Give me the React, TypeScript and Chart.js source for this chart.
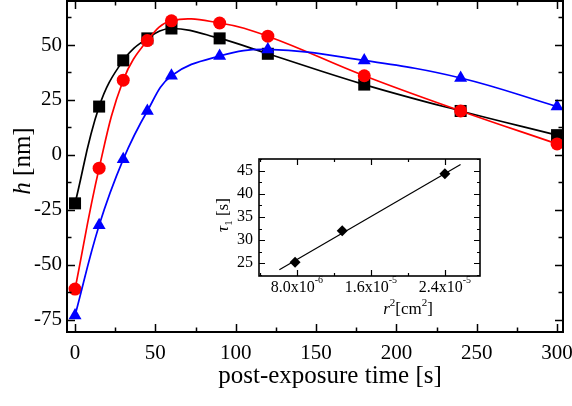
import React, { useEffect, useRef } from "react";
import { Chart, registerables } from "chart.js";
Chart.register(...registerables);

const FONT = "'Liberation Serif', 'Times New Roman', serif";

// ---- main plot data ----
const timeS = [0, 15, 30, 45, 60, 90, 120, 180, 240, 300];
const hSquares = [-22, 22, 43, 53, 57.5, 53, 46, 32, 20, 9];
const hCircles = [-61, -6, 34, 52, 61, 60, 54, 36, 20, 5];
const hTriangles = [-73, -32, -2, 20, 36, 45, 48, 43, 35, 22];
const mainXTicks = [0, 50, 100, 150, 200, 250, 300];
const mainXMinor = [25, 75, 125, 175, 225, 275];
const mainYTicks = [-75, -50, -25, 0, 25, 50];
const mainYMinor = [-62.5, -37.5, -12.5, 12.5, 37.5, 62.5];

// ---- inset data ----
const r2Values = [7.8e-6, 1.29e-5, 2.4e-5];
const tauValues = [25.2, 32.0, 44.3];
const fitR2 = [6.1e-6, 2.57e-5];
const fitTau = [23.6, 46.3];
const insetXTicks = [8e-6, 1.6e-5, 2.4e-5];
const insetXMantissa = ["8.0x10", "1.6x10", "2.4x10"];
const insetXExponent = ["-6", "-5", "-5"];
const insetXMinor = [4e-6, 1.2e-5, 2.0e-5];
const insetYTicks = [25, 30, 35, 40, 45];
const insetYMinor = [22.5, 27.5, 32.5, 37.5, 42.5, 47.5];

type Piece = { t: string; size: number; italic?: boolean; dy?: number };

function drawPieces(ctx: CanvasRenderingContext2D, pieces: Piece[], x: number, y: number, rotate: boolean) {
  ctx.save();
  ctx.translate(x, y);
  if (rotate) ctx.rotate(-Math.PI / 2);
  ctx.textBaseline = "alphabetic";
  ctx.textAlign = "left";
  ctx.fillStyle = "#000";
  const fontOf = (p: Piece) => `${p.italic ? "italic " : ""}${p.size}px ${FONT}`;
  const widths = pieces.map((p) => {
    ctx.font = fontOf(p);
    return ctx.measureText(p.t).width;
  });
  const total = widths.reduce((a, b) => a + b, 0);
  let cx = -total / 2;
  pieces.forEach((p, i) => {
    ctx.font = fontOf(p);
    ctx.fillText(p.t, cx, p.dy || 0);
    cx += widths[i];
  });
  ctx.restore();
}

type FrameCfg = {
  id: string;
  xMajor: number[];
  xMinor: number[];
  yMajor: number[];
  yMinor: number[];
  major: number;
  minor: number;
  frameWidth: number;
  tickWidth: number;
  extra?: (chart: any) => void;
};

function framePlugin(cfg: FrameCfg) {
  return {
    id: "frame" + cfg.id,
    afterDraw(chart: any) {
      const { ctx, chartArea: a, scales } = chart;
      const xs = scales.x;
      const ys = scales.y;
      ctx.save();
      ctx.strokeStyle = "#000";
      ctx.lineWidth = cfg.tickWidth;
      ctx.beginPath();
      const xt = (vals: number[], len: number) => {
        for (const v of vals) {
          const p = Math.round(xs.getPixelForValue(v)) + 0.5;
          ctx.moveTo(p, a.bottom);
          ctx.lineTo(p, a.bottom - len);
          ctx.moveTo(p, a.top);
          ctx.lineTo(p, a.top + len);
        }
      };
      const yt = (vals: number[], len: number) => {
        for (const v of vals) {
          const p = Math.round(ys.getPixelForValue(v)) + 0.5;
          ctx.moveTo(a.left, p);
          ctx.lineTo(a.left + len, p);
          ctx.moveTo(a.right, p);
          ctx.lineTo(a.right - len, p);
        }
      };
      xt(cfg.xMajor, cfg.major);
      xt(cfg.xMinor, cfg.minor);
      yt(cfg.yMajor, cfg.major);
      yt(cfg.yMinor, cfg.minor);
      ctx.stroke();
      ctx.lineWidth = cfg.frameWidth;
      ctx.strokeRect(a.left, a.top, a.right - a.left, a.bottom - a.top);
      ctx.restore();
      if (cfg.extra) cfg.extra(chart);
    },
  };
}

const pts = (xs: number[], ys: number[]) => xs.map((x, i) => ({ x, y: ys[i] }));

export default function App() {
  const mainRef = useRef<HTMLCanvasElement>(null);
  const insetRef = useRef<HTMLCanvasElement>(null);

  useEffect(() => {
    const common = (color: string, style: string, radius: number, data: any) => ({
      data,
      borderColor: color,
      backgroundColor: color,
      pointBackgroundColor: color,
      pointStyle: style,
      pointRadius: radius,
      pointBorderWidth: 0,
      borderWidth: 1.7,
      tension: 0.4,
    });

    const main = new Chart(mainRef.current as HTMLCanvasElement, {
      type: "line",
      data: {
        datasets: [
          common("#0000ff", "triangle", 7.5, pts(timeS, hTriangles)),
          common("#ff0000", "circle", 6.5, pts(timeS, hCircles)),
          common("#000000", "rect", 8.5, pts(timeS, hSquares)),
        ] as any,
      },
      options: {
        responsive: false,
        animation: false,
        layout: { autoPadding: false, padding: { top: 1, right: 9, left: 0, bottom: 0 } },
        plugins: { legend: { display: false }, tooltip: { enabled: false } },
        scales: {
          x: {
            type: "linear",
            min: -5,
            max: 303.7,
            afterBuildTicks: (s: any) => {
              s.ticks = mainXTicks.map((v) => ({ value: v }));
            },
            afterFit: (s: any) => {
              s.height = 74;
              s.paddingLeft = 0;
              s.paddingRight = 0;
            },
            ticks: {
              font: { family: FONT, size: 21 },
              color: "#000",
              padding: 9,
              maxRotation: 0,
              autoSkip: false,
              callback: (v: any) => String(v),
            },
            grid: { display: false, drawTicks: false },
            border: { display: false },
          },
          y: {
            type: "linear",
            min: -80.5,
            max: 70,
            afterBuildTicks: (s: any) => {
              s.ticks = mainYTicks.map((v) => ({ value: v }));
            },
            afterFit: (s: any) => {
              s.width = 67;
              s.paddingTop = 0;
              s.paddingBottom = 0;
            },
            ticks: {
              font: { family: FONT, size: 21 },
              color: "#000",
              padding: 5,
              autoSkip: false,
              callback: (v: any) => String(v),
            },
            grid: { display: false, drawTicks: false },
            border: { display: false },
          },
        },
      } as any,
      plugins: [
        framePlugin({
          id: "main",
          xMajor: mainXTicks,
          xMinor: mainXMinor,
          yMajor: mainYTicks,
          yMinor: mainYMinor,
          major: 8,
          minor: 4.5,
          frameWidth: 2,
          tickWidth: 1.5,
          extra: (chart: any) => {
            const ctx = chart.ctx;
            drawPieces(ctx, [{ t: "h", size: 25, italic: true }, { t: " [nm]", size: 25 }], 30, 161, true);
            drawPieces(ctx, [{ t: "post-exposure time [s]", size: 25 }], 330, 383, false);
          },
        }) as any,
      ],
    });

    const inset = new Chart(insetRef.current as HTMLCanvasElement, {
      type: "line",
      data: {
        datasets: [
          {
            data: pts(r2Values, tauValues),
            showLine: false,
            pointStyle: "rectRot",
            pointRadius: 5.5,
            pointBorderWidth: 0,
            pointBackgroundColor: "#000",
            borderColor: "#000",
          },
          {
            data: pts(fitR2, fitTau),
            borderColor: "#000",
            borderWidth: 1.2,
            pointRadius: 0,
            tension: 0,
          },
        ] as any,
      },
      options: {
        responsive: false,
        animation: false,
        layout: { autoPadding: false, padding: { top: 9, right: 5, left: 0, bottom: 0 } },
        plugins: { legend: { display: false }, tooltip: { enabled: false } },
        scales: {
          x: {
            type: "linear",
            min: 3.9e-6,
            max: 2.78e-5,
            afterBuildTicks: (s: any) => {
              s.ticks = insetXTicks.map((v) => ({ value: v }));
            },
            afterFit: (s: any) => {
              s.height = 49;
              s.paddingLeft = 0;
              s.paddingRight = 0;
            },
            ticks: { display: false },
            grid: { display: false, drawTicks: false },
            border: { display: false },
          },
          y: {
            type: "linear",
            min: 22.25,
            max: 47.5,
            afterBuildTicks: (s: any) => {
              s.ticks = insetYTicks.map((v) => ({ value: v }));
            },
            afterFit: (s: any) => {
              s.width = 54;
              s.paddingTop = 0;
              s.paddingBottom = 0;
            },
            ticks: {
              font: { family: FONT, size: 16 },
              color: "#000",
              padding: 6,
              autoSkip: false,
              callback: (v: any) => String(v),
            },
            grid: { display: false, drawTicks: false },
            border: { display: false },
          },
        },
      } as any,
      plugins: [
        framePlugin({
          id: "inset",
          xMajor: insetXTicks,
          xMinor: insetXMinor,
          yMajor: insetYTicks,
          yMinor: insetYMinor,
          major: 6,
          minor: 3,
          frameWidth: 1.6,
          tickWidth: 1.2,
          extra: (chart: any) => {
            const ctx = chart.ctx;
            const xs = chart.scales.x;
            const base = chart.chartArea.bottom + 16;
            insetXTicks.forEach((v, i) => {
              const px = xs.getPixelForValue(v);
              drawPieces(
                ctx,
                [
                  { t: insetXMantissa[i], size: 16 },
                  { t: insetXExponent[i], size: 10, dy: -9 },
                ],
                px,
                base,
                false
              );
            });
            drawPieces(
              ctx,
              [
                { t: "r", size: 17, italic: true },
                { t: "2", size: 11, dy: -8 },
                { t: "[cm", size: 17 },
                { t: "2", size: 11, dy: -8 },
                { t: "]", size: 17 },
              ],
              203,
              164,
              false
            );
            drawPieces(
              ctx,
              [
                { t: "\u03C4", size: 17, italic: true },
                { t: "1", size: 11, dy: 4 },
                { t: " [s]", size: 17 },
              ],
              23,
              65,
              true
            );
          },
        }) as any,
      ],
    });

    return () => {
      main.destroy();
      inset.destroy();
    };
  }, []);

  return (
    <div style={{ position: "fixed", left: 0, top: 0, width: 572, height: 406, background: "#fff" }}>
      <canvas ref={mainRef} width={572} height={406} style={{ position: "absolute", left: 0, top: 0 }} />
      <canvas ref={insetRef} width={280} height={175} style={{ position: "absolute", left: 205, top: 150 }} />
    </div>
  );
}
